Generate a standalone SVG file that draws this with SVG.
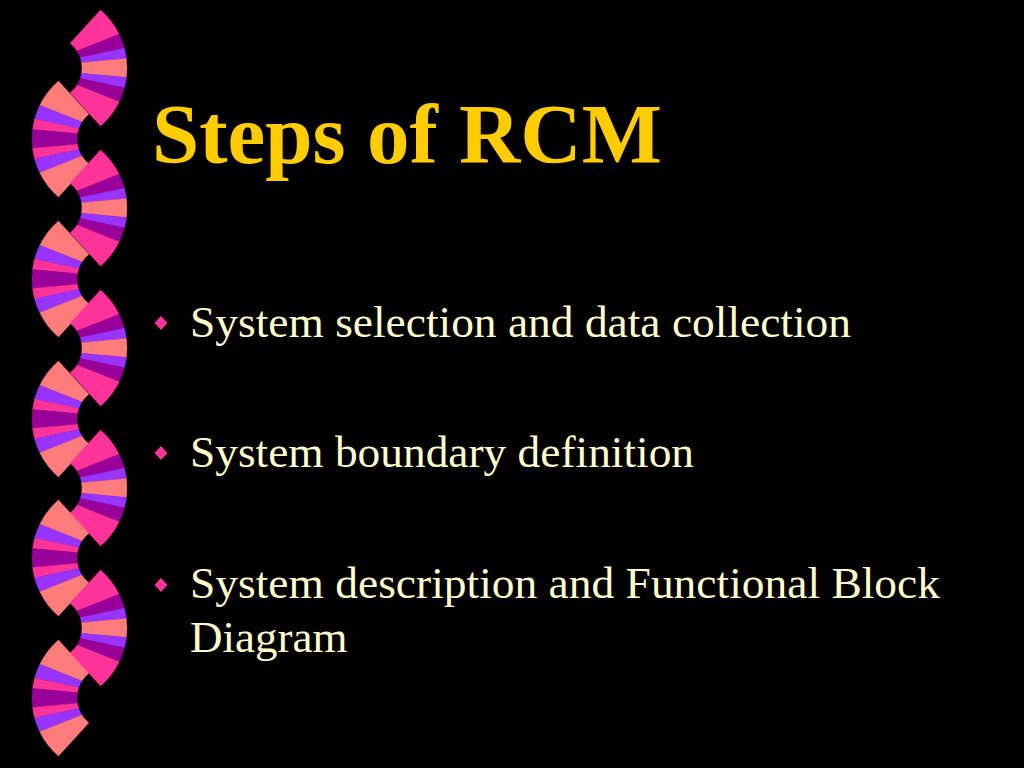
<svg xmlns="http://www.w3.org/2000/svg" xmlns:xlink="http://www.w3.org/1999/xlink" width="1024" height="768" viewBox="0 0 1024 768">
<style>
.pk{fill:#FF3399;stroke:#FF3399;stroke-width:0.4}
.dp{fill:#990099;stroke:#990099;stroke-width:0.4}
.vi{fill:#9933FF;stroke:#9933FF;stroke-width:0.4}
.sa{fill:#FF7C7C;stroke:#FF7C7C;stroke-width:0.4}
.title{font-family:"Liberation Serif","Times New Roman",serif;font-weight:bold;font-size:85px;fill:#FFCC00}
.body{font-family:"Liberation Serif","Times New Roman",serif;font-size:45px;fill:#FFFFCC}
.bullet{fill:#FF3399}
</style>
<defs>
<path id="s1" d="M50.52,-58.11 A77,77 0 0 1 69.21,-33.76 L27.14,-16.96 A32,32 0 0 0 20.14,-24.87 Z"/>
<path id="s2" d="M69.21,-33.76 A77,77 0 0 1 74.38,-19.93 L30.26,-10.42 A32,32 0 0 0 27.14,-16.96 Z"/>
<path id="s3" d="M74.38,-19.93 A77,77 0 0 1 76.42,-9.38 L31.56,-5.28 A32,32 0 0 0 30.26,-10.42 Z"/>
<path id="s4" d="M76.42,-9.38 A77,77 0 0 1 76.42,9.38 L31.56,5.28 A32,32 0 0 0 31.56,-5.28 Z"/>
<path id="s5" d="M76.42,9.38 A77,77 0 0 1 74.38,19.93 L30.26,10.42 A32,32 0 0 0 31.56,5.28 Z"/>
<path id="s6" d="M74.38,19.93 A77,77 0 0 1 69.21,33.76 L27.14,16.96 A32,32 0 0 0 30.26,10.42 Z"/>
<path id="s7" d="M69.21,33.76 A77,77 0 0 1 50.52,58.11 L20.14,24.87 A32,32 0 0 0 27.14,16.96 Z"/>
<g id="fanR">
<use xlink:href="#s1" class="pk"/><use xlink:href="#s2" class="dp"/><use xlink:href="#s3" class="vi"/><use xlink:href="#s4" class="sa"/><use xlink:href="#s5" class="vi"/><use xlink:href="#s6" class="dp"/><use xlink:href="#s7" class="pk"/>
</g>
<g id="fanL" transform="scale(-1,1)">
<use xlink:href="#s1" class="sa"/><use xlink:href="#s2" class="vi"/><use xlink:href="#s3" class="pk"/><use xlink:href="#s4" class="dp"/><use xlink:href="#s5" class="pk"/><use xlink:href="#s6" class="vi"/><use xlink:href="#s7" class="sa"/>
</g>
</defs>
<rect x="0" y="0" width="1024" height="768" fill="#000000"/>
<g id="ribbon">
<use xlink:href="#fanR" transform="translate(50,68)"/>
<use xlink:href="#fanL" transform="translate(109,139)"/>
<use xlink:href="#fanR" transform="translate(50,208)"/>
<use xlink:href="#fanL" transform="translate(109,279)"/>
<use xlink:href="#fanR" transform="translate(50,348)"/>
<use xlink:href="#fanL" transform="translate(109,419)"/>
<use xlink:href="#fanR" transform="translate(50,488)"/>
<use xlink:href="#fanL" transform="translate(109,558)"/>
<use xlink:href="#fanR" transform="translate(50,628)"/>
<use xlink:href="#fanL" transform="translate(109,698)"/>
</g>
<g id="title">
<text class="title" x="152" y="163" textLength="510" lengthAdjust="spacingAndGlyphs">Steps of RCM</text>
</g>
<g id="item1">
<path class="bullet" d="M161,316 L167.5,323 L161,330 L154.5,323 Z"/>
<text class="body" x="190" y="337" textLength="661" lengthAdjust="spacingAndGlyphs">System selection and data collection</text>
</g>
<g id="item2">
<path class="bullet" d="M161,446 L167.5,453 L161,460 L154.5,453 Z"/>
<text class="body" x="190" y="467" textLength="504" lengthAdjust="spacingAndGlyphs">System boundary definition</text>
</g>
<g id="item3">
<path class="bullet" d="M161,578 L167.5,585 L161,592 L154.5,585 Z"/>
<text class="body" x="190" y="598" textLength="750" lengthAdjust="spacingAndGlyphs">System description and Functional Block</text>
<text class="body" x="190" y="652">Diagram</text>
</g>
</svg>
